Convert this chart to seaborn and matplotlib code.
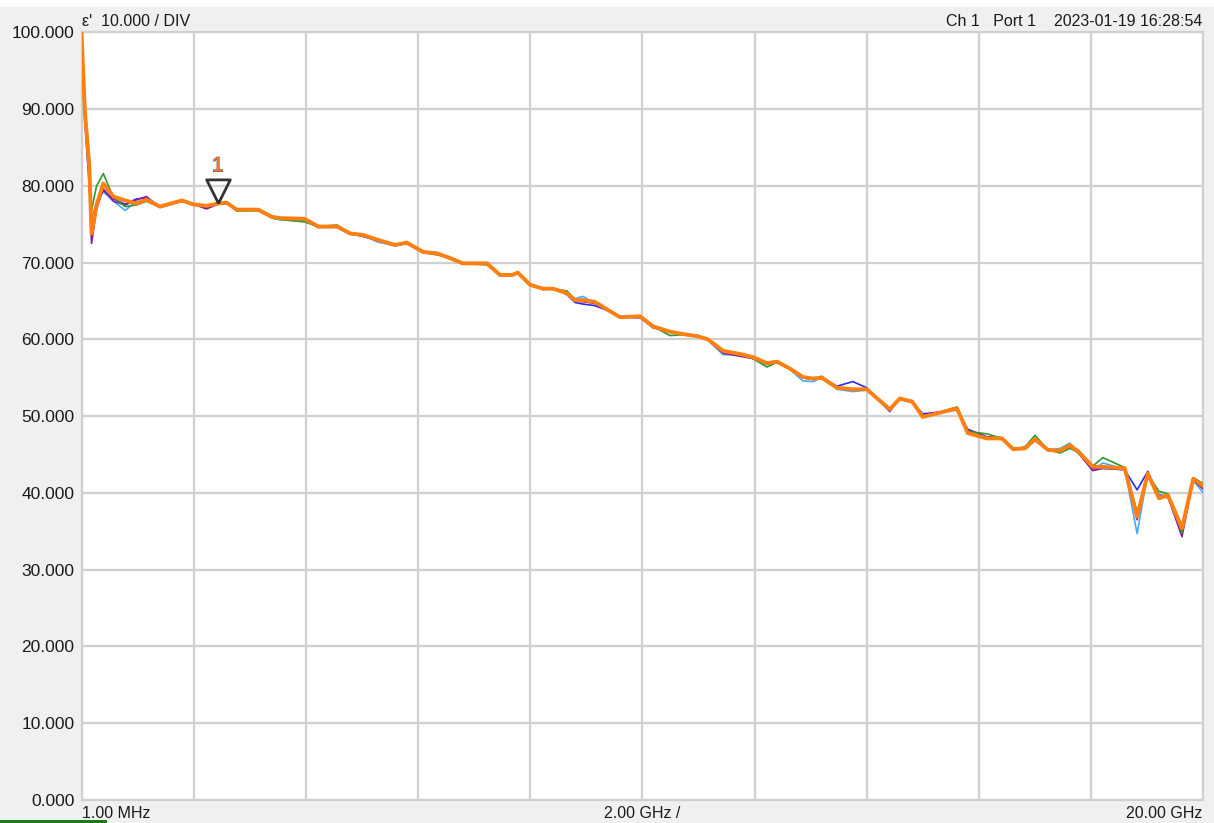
import matplotlib
matplotlib.use('Agg')
import pandas as pd
import seaborn as sns
from matplotlib import pyplot as plt
from matplotlib.patches import Rectangle
import matplotlib.patheffects as pe

sns.set_style('white')
plt.rcParams['font.family'] = ['Liberation Sans', 'DejaVu Sans']

# frequency points (GHz)
Freq = [0.001, 0.06, 0.14, 0.18, 0.27, 0.39, 0.57, 0.78, 0.98, 1.16,
        1.40, 1.79, 1.99, 2.23, 2.43, 2.59, 2.77, 3.15, 3.40, 3.54,
        3.98, 4.22, 4.56, 4.79, 5.02, 5.27, 5.59, 5.80, 6.09, 6.34,
        6.57, 6.80, 7.23, 7.46, 7.68, 7.78, 8.00, 8.23, 8.41, 8.66,
        8.80, 8.94, 9.15, 9.37, 9.60, 9.96, 10.19, 10.49, 10.72, 10.99,
        11.17, 11.44, 11.74, 11.97, 12.22, 12.40, 12.63, 12.86, 13.04, 13.20,
        13.47, 13.75, 14.00, 14.41, 14.59, 14.81, 15.00, 15.61, 15.80, 16.14,
        16.41, 16.61, 16.82, 17.00, 17.23, 17.45, 17.62, 17.77, 18.03, 18.21,
        18.60, 18.82, 19.01, 19.21, 19.37, 19.62, 19.82, 20.00]

Orange = [100.0, 89.8, 82.5, 73.8, 77.5, 80.3, 78.6, 78.1, 77.7, 78.2,
          77.3, 78.1, 77.6, 77.4, 77.7, 77.8, 76.9, 76.9, 75.95, 75.8,
          75.7, 74.7, 74.7, 73.8, 73.6, 73.0, 72.3, 72.6, 71.4, 71.2,
          70.6, 69.9, 69.9, 68.4, 68.4, 68.7, 67.1, 66.6, 66.6, 66.0,
          65.1, 65.1, 64.9, 63.9, 62.9, 63.0, 61.7, 61.0, 60.7, 60.4,
          60.0, 58.5, 58.1, 57.7, 56.9, 57.1, 56.2, 55.1, 54.9, 55.0,
          53.7, 53.5, 53.5, 50.9, 52.3, 51.9, 49.9, 51.0, 47.8, 47.1,
          47.1, 45.7, 45.8, 47.0, 45.6, 45.5, 46.2, 45.4, 43.4, 43.4,
          43.2, 36.9, 42.5, 39.3, 39.7, 35.4, 41.8, 40.9]

Blue = [100.0, 88.5, 80.0, 73.5, 77.8, 79.4, 78.3, 77.6, 78.3, 78.4,
        77.2, 78.0, 77.6, 77.2, 77.7, 77.7, 76.9, 76.8, 75.9, 75.7,
        75.6, 74.6, 74.7, 73.8, 73.4, 72.9, 72.2, 72.5, 71.4, 71.1,
        70.6, 69.8, 69.9, 68.3, 68.4, 68.6, 67.1, 66.5, 66.7, 65.8,
        64.8, 64.6, 64.4, 63.8, 62.9, 62.8, 61.6, 61.1, 60.7, 60.5,
        60.0, 58.4, 58.0, 57.5, 56.8, 57.1, 56.2, 55.0, 54.8, 55.0,
        53.9, 54.5, 53.7, 50.6, 52.4, 51.8, 50.3, 50.8, 48.3, 47.3,
        47.2, 45.8, 45.7, 46.8, 45.7, 45.4, 46.0, 45.6, 43.2, 43.2,
        43.0, 40.4, 42.8, 39.5, 39.4, 35.0, 41.6, 40.6]

LightBlue = [100.0, 89.5, 83.0, 75.5, 78.0, 79.2, 78.0, 76.8, 78.0, 78.0,
             77.2, 78.0, 77.6, 77.3, 77.6, 77.7, 76.8, 76.8, 75.8, 75.6,
             75.4, 74.6, 74.6, 73.7, 73.6, 72.7, 72.2, 72.5, 71.3, 71.2,
             70.5, 69.9, 70.0, 68.4, 68.4, 68.7, 67.0, 66.6, 66.7, 65.9,
             65.3, 65.6, 64.7, 63.8, 62.8, 63.0, 61.7, 60.9, 60.7, 60.4,
             59.9, 58.0, 58.0, 57.6, 56.7, 57.0, 56.1, 54.6, 54.5, 55.0,
             53.5, 53.2, 53.4, 50.8, 52.2, 51.8, 50.0, 50.9, 47.9, 47.3,
             47.0, 45.8, 45.9, 46.9, 45.6, 45.8, 46.5, 45.3, 43.0, 43.9,
             43.1, 34.7, 42.6, 39.8, 39.6, 35.8, 41.6, 40.0]

Green = [100.0, 90.5, 84.0, 76.8, 80.0, 81.6, 78.5, 77.3, 77.5, 78.0,
         77.3, 78.0, 77.5, 77.3, 77.7, 77.8, 76.7, 76.8, 75.8, 75.6,
         75.3, 74.7, 74.9, 73.8, 73.6, 73.0, 72.4, 72.6, 71.3, 71.0,
         70.7, 69.9, 69.7, 68.4, 68.5, 68.7, 67.2, 66.6, 66.6, 66.3,
         65.1, 65.2, 64.9, 63.9, 62.9, 62.9, 61.7, 60.5, 60.6, 60.4,
         60.0, 58.6, 58.0, 57.5, 56.4, 57.0, 56.2, 55.1, 54.9, 55.2,
         53.7, 53.5, 53.5, 50.9, 52.3, 51.9, 49.9, 51.2, 48.0, 47.7,
         47.1, 45.7, 46.0, 47.5, 45.6, 45.2, 45.8, 45.3, 43.5, 44.6,
         43.3, 37.5, 42.4, 40.2, 39.9, 34.8, 42.0, 41.2]

Purple = [100.0, 89.0, 81.0, 72.5, 77.0, 79.6, 78.0, 77.5, 78.2, 78.6,
          77.2, 78.1, 77.6, 77.0, 77.6, 77.8, 76.9, 76.8, 75.9, 75.8,
          75.6, 74.6, 74.6, 73.7, 73.5, 72.9, 72.3, 72.5, 71.3, 71.1,
          70.5, 69.8, 69.9, 68.3, 68.3, 68.7, 67.1, 66.5, 66.6, 65.9,
          65.0, 64.9, 64.7, 63.8, 62.9, 62.9, 61.5, 61.0, 60.7, 60.4,
          59.9, 58.2, 57.8, 57.5, 56.8, 57.0, 56.1, 55.0, 54.8, 54.9,
          53.6, 53.4, 53.4, 50.8, 52.2, 51.8, 50.1, 51.0, 48.2, 47.3,
          47.1, 45.7, 45.8, 46.9, 45.5, 45.4, 46.1, 45.2, 42.9, 43.2,
          43.1, 36.5, 42.4, 39.6, 39.5, 34.3, 41.7, 40.5]

MarkerFreq = 2.43
MarkerVal = 77.7

YTicks = [0, 10, 20, 30, 40, 50, 60, 70, 80, 90, 100]
XGrid = [0.001, 2, 4, 6, 8, 10, 12, 14, 16, 18, 20]

# trace name -> (values, color, linewidth)
Traces = {'LightBlue': (LightBlue, '#45aaff', 1.2),
          'Blue': (Blue, '#2a2aff', 1.2),
          'Purple': (Purple, '#8a1a9a', 1.2),
          'Green': (Green, '#2e9a2e', 1.2),
          'Orange': (Orange, '#ff8010', 2.8)}

fig = plt.figure(figsize=(12.14, 8.23), dpi=100, facecolor='#f0f0f0')
ax = fig.add_axes([81.5 / 1214, 1 - 800 / 823, (1203.3 - 81.5) / 1214, (800 - 32.3) / 823])
ax.set_facecolor('white')

for name, (vals, color, lw) in Traces.items():
    df = pd.DataFrame({'Freq': Freq, 'Eps': vals})
    sns.lineplot(data=df, x='Freq', y='Eps', color=color, linewidth=lw,
                 sort=False, estimator=None, ax=ax, zorder=3)

# marker 1
tri = [(0, 0), (-0.5, 1), (0.5, 1), (0, 0)]
ax.plot([MarkerFreq], [MarkerVal], marker=tri, markersize=34, markerfacecolor='none',
        markeredgecolor='#333333', markeredgewidth=2.0, zorder=5, clip_on=False)
ax.annotate('1', xy=(MarkerFreq, MarkerVal), xytext=(0, 27), textcoords='offset points',
            ha='center', va='center', fontsize=15, color='#f07a3a', zorder=6,
            path_effects=[pe.withStroke(linewidth=0.8, foreground='#7a4a3a')])

ax.set_xlim(0.001, 20)
ax.set_ylim(0, 100)
ax.set_xticks(XGrid)
ax.set_xticklabels([])
ax.set_yticks(YTicks)
ax.set_yticklabels([f'{v:.3f}' for v in YTicks], fontsize=12.5, color='#1a1a1a')
ax.tick_params(axis='both', length=0)
ax.tick_params(axis='y', pad=5)
ax.grid(True, color='#d0d0d0', linewidth=1.6)
ax.set_axisbelow(True)
ax.set_xlabel('')
ax.set_ylabel('')
for sp in ax.spines.values():
    sp.set_color('#d0d0d0')
    sp.set_linewidth(1.6)

# header and footer texts
tc = '#1a1a1a'
fig.text(81.7 / 1214, 1 - 21 / 823, "ε'  10.000 / DIV", ha='left', va='center',
         fontsize=11.5, color=tc)
fig.text(1202.7 / 1214, 1 - 21 / 823, 'Ch 1   Port 1    2023-01-19 16:28:54',
         ha='right', va='center', fontsize=11.5, color=tc)
fig.text(81.7 / 1214, 1 - 813 / 823, '1.00 MHz', ha='left', va='center',
         fontsize=11.5, color=tc)
fig.text(642 / 1214, 1 - 813 / 823, '2.00 GHz /', ha='center', va='center',
         fontsize=11.5, color=tc)
fig.text(1202.7 / 1214, 1 - 813 / 823, '20.00 GHz', ha='right', va='center',
         fontsize=11.5, color=tc)

fig.add_artist(Rectangle((0, 1 - 7 / 823), 1, 7 / 823, transform=fig.transFigure,
                         facecolor='white', edgecolor='none'))
fig.add_artist(Rectangle((0, 0), 107 / 1214, 3 / 823, transform=fig.transFigure,
                         facecolor='#1a7a1a', edgecolor='none'))

fig.savefig('out.png', dpi=100, facecolor=fig.get_facecolor())
